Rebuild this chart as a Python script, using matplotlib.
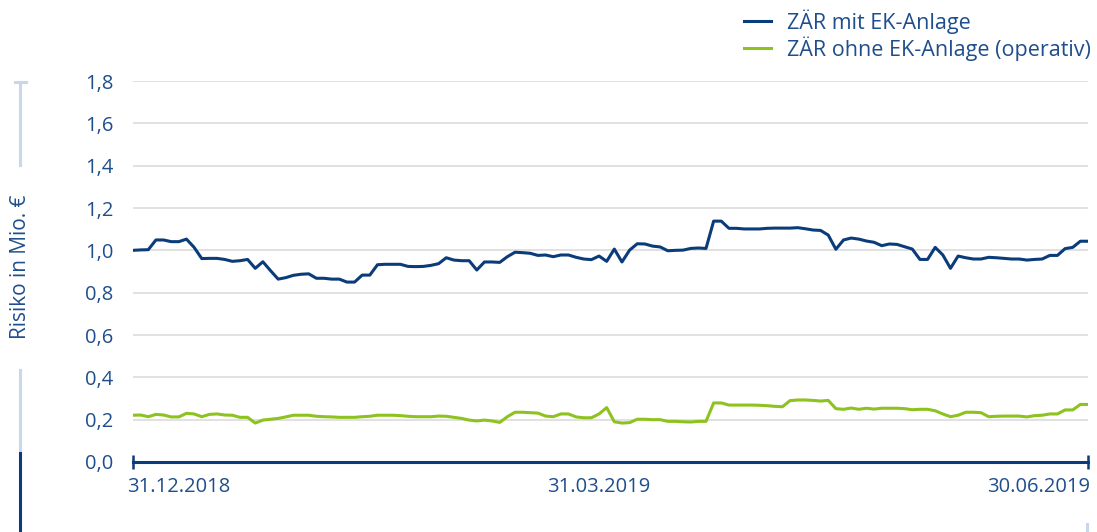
import matplotlib
matplotlib.use("Agg")
import matplotlib.pyplot as plt
import matplotlib.transforms as mtrans
from matplotlib.lines import Line2D

# ---- data (one value per trading day) ----
mit_ek = [
    1.000, 1.002, 1.003, 1.049, 1.049, 1.041, 1.041, 1.053, 1.014, 0.961,
    0.962, 0.962, 0.957, 0.948, 0.951, 0.957, 0.915, 0.946, 0.904, 0.864,
    0.871, 0.882, 0.887, 0.889, 0.868, 0.868, 0.864, 0.864, 0.850, 0.850,
    0.883, 0.883, 0.932, 0.934, 0.934, 0.934, 0.924, 0.923, 0.924, 0.929,
    0.937, 0.965, 0.954, 0.951, 0.951, 0.907, 0.945, 0.945, 0.943, 0.970,
    0.991, 0.989, 0.986, 0.976, 0.978, 0.970, 0.978, 0.978, 0.967, 0.959,
    0.956, 0.973, 0.948, 1.006, 0.945, 1.001, 1.031, 1.030, 1.020, 1.016,
    0.998, 1.000, 1.001, 1.009, 1.011, 1.009, 1.138, 1.138, 1.104, 1.104,
    1.101, 1.101, 1.101, 1.104, 1.105, 1.105, 1.105, 1.107, 1.102, 1.096,
    1.094, 1.072, 1.005, 1.049, 1.058, 1.053, 1.044, 1.038, 1.022, 1.030,
    1.028, 1.017, 1.006, 0.957, 0.957, 1.014, 0.978, 0.915, 0.973, 0.965,
    0.959, 0.959, 0.967, 0.965, 0.962, 0.959, 0.959, 0.954, 0.957, 0.959,
    0.976, 0.976, 1.008, 1.014, 1.043, 1.043,
]
ohne_ek = [
    0.221, 0.222, 0.214, 0.225, 0.222, 0.213, 0.213, 0.230, 0.227, 0.214,
    0.225, 0.227, 0.222, 0.221, 0.211, 0.211, 0.184, 0.198, 0.202, 0.206,
    0.213, 0.221, 0.221, 0.221, 0.216, 0.214, 0.213, 0.211, 0.211, 0.211,
    0.214, 0.216, 0.221, 0.221, 0.221, 0.219, 0.216, 0.214, 0.214, 0.214,
    0.217, 0.216, 0.211, 0.206, 0.198, 0.194, 0.198, 0.194, 0.187, 0.214,
    0.235, 0.235, 0.233, 0.231, 0.217, 0.214, 0.227, 0.227, 0.213, 0.209,
    0.209, 0.227, 0.257, 0.190, 0.184, 0.186, 0.202, 0.202, 0.200, 0.200,
    0.192, 0.192, 0.190, 0.189, 0.192, 0.192, 0.279, 0.279, 0.269, 0.269,
    0.269, 0.269, 0.268, 0.266, 0.263, 0.261, 0.290, 0.293, 0.293, 0.291,
    0.288, 0.291, 0.252, 0.249, 0.255, 0.249, 0.254, 0.250, 0.254, 0.254,
    0.254, 0.252, 0.247, 0.249, 0.249, 0.242, 0.227, 0.214, 0.221, 0.235,
    0.235, 0.233, 0.214, 0.216, 0.217, 0.217, 0.217, 0.213, 0.219, 0.221,
    0.227, 0.227, 0.246, 0.246, 0.272, 0.272,
]
series_labels = ["ZÄR mit EK-Anlage", "ZÄR ohne EK-Anlage (operativ)"]
x_tick_pos = [0, 61, 125]
x_tick_labels = ["31.12.2018", "31.03.2019", "30.06.2019"]
y_ticks = [0.0, 0.2, 0.4, 0.6, 0.8, 1.0, 1.2, 1.4, 1.6, 1.8]
y_label = "Risiko in Mio. €"

# ---- style ----
DARK = "#0b3c7a"
GREEN = "#8dc21f"
TEXT = "#1f4e8c"
GRID = "#d9d9d9"
LIGHT = "#c8d8ea"
plt.rcParams["font.family"] = ["Open Sans", "DejaVu Sans"]

fig = plt.figure(figsize=(10.97, 5.32), dpi=100)
ax = fig.add_axes([133 / 1097, 1 - 462 / 532, (1088 - 133) / 1097, (462 - 81) / 532])

xs = list(range(len(mit_ek)))
ax.plot(xs, mit_ek, color=DARK, lw=2.2, solid_joinstyle="round", zorder=3)
ax.plot(xs, ohne_ek, color=GREEN, lw=2.2, solid_joinstyle="round", zorder=3)

ax.set_xlim(0, len(mit_ek) - 1)
ax.set_ylim(0, 1.8)
ax.set_yticks(y_ticks)
ax.set_yticklabels([f"{v:.1f}".replace(".", ",") for v in y_ticks])
ax.yaxis.grid(True, color=GRID, lw=1.1)
ax.set_axisbelow(True)

for s in ("left", "right", "top"):
    ax.spines[s].set_visible(False)
ax.spines["bottom"].set_color(DARK)
ax.spines["bottom"].set_linewidth(2.2)
ax.spines["bottom"].set_zorder(4)

ax.tick_params(axis="y", length=0, pad=14, labelsize=14.5, labelcolor=TEXT)
ax.set_xticks([x_tick_pos[0], x_tick_pos[2]])
ax.set_xticklabels([x_tick_labels[0], x_tick_labels[2]])
ax.set_xticks([x_tick_pos[1]], minor=True)
ax.set_xticklabels([x_tick_labels[1]], minor=True)
ax.tick_params(axis="x", which="major", direction="inout", length=10, width=1.8,
               color=DARK, pad=6, labelsize=14.5, labelcolor=TEXT)
ax.tick_params(axis="x", which="minor", length=0, pad=11, labelsize=14.5, labelcolor=TEXT)
tl = ax.get_xticklabels()
tl[0].set_ha("left")
tl[1].set_ha("right")
tl[0].set_transform(tl[0].get_transform() + mtrans.ScaledTranslation(-6 / 100, 0, fig.dpi_scale_trans))
tl[1].set_transform(tl[1].get_transform() + mtrans.ScaledTranslation(2 / 100, 0, fig.dpi_scale_trans))

fig.text(21 / 1097, 1 - 267 / 532, y_label, rotation=90, ha="center", va="center",
         fontsize=15, color=TEXT)

# decorative side bars (as in the reference)
def vline(x, y0, y1, color, lw=2.2):
    fig.add_artist(Line2D([x / 1097, x / 1097], [1 - y0 / 532, 1 - y1 / 532],
                          color=color, lw=lw, transform=fig.transFigure))
vline(20, 82, 165, LIGHT)
fig.add_artist(Line2D([15 / 1097, 26 / 1097], [1 - 82 / 532, 1 - 82 / 532],
                      color=LIGHT, lw=2.2, transform=fig.transFigure))
vline(20, 370, 453, LIGHT)
vline(20, 453, 532, DARK)
vline(1087, 524, 532, LIGHT)

handles = [Line2D([], [], color=DARK, lw=2.2), Line2D([], [], color=GREEN, lw=2.2)]
leg = fig.legend(handles, series_labels, loc="upper right",
                 bbox_to_anchor=(1091 / 1097, 1 - 9 / 532), frameon=False,
                 fontsize=15.5, labelcolor=TEXT, handlelength=1.25, handletextpad=0.75,
                 labelspacing=0.12, borderaxespad=0, borderpad=0)

fig.savefig("out.png", dpi=100)
